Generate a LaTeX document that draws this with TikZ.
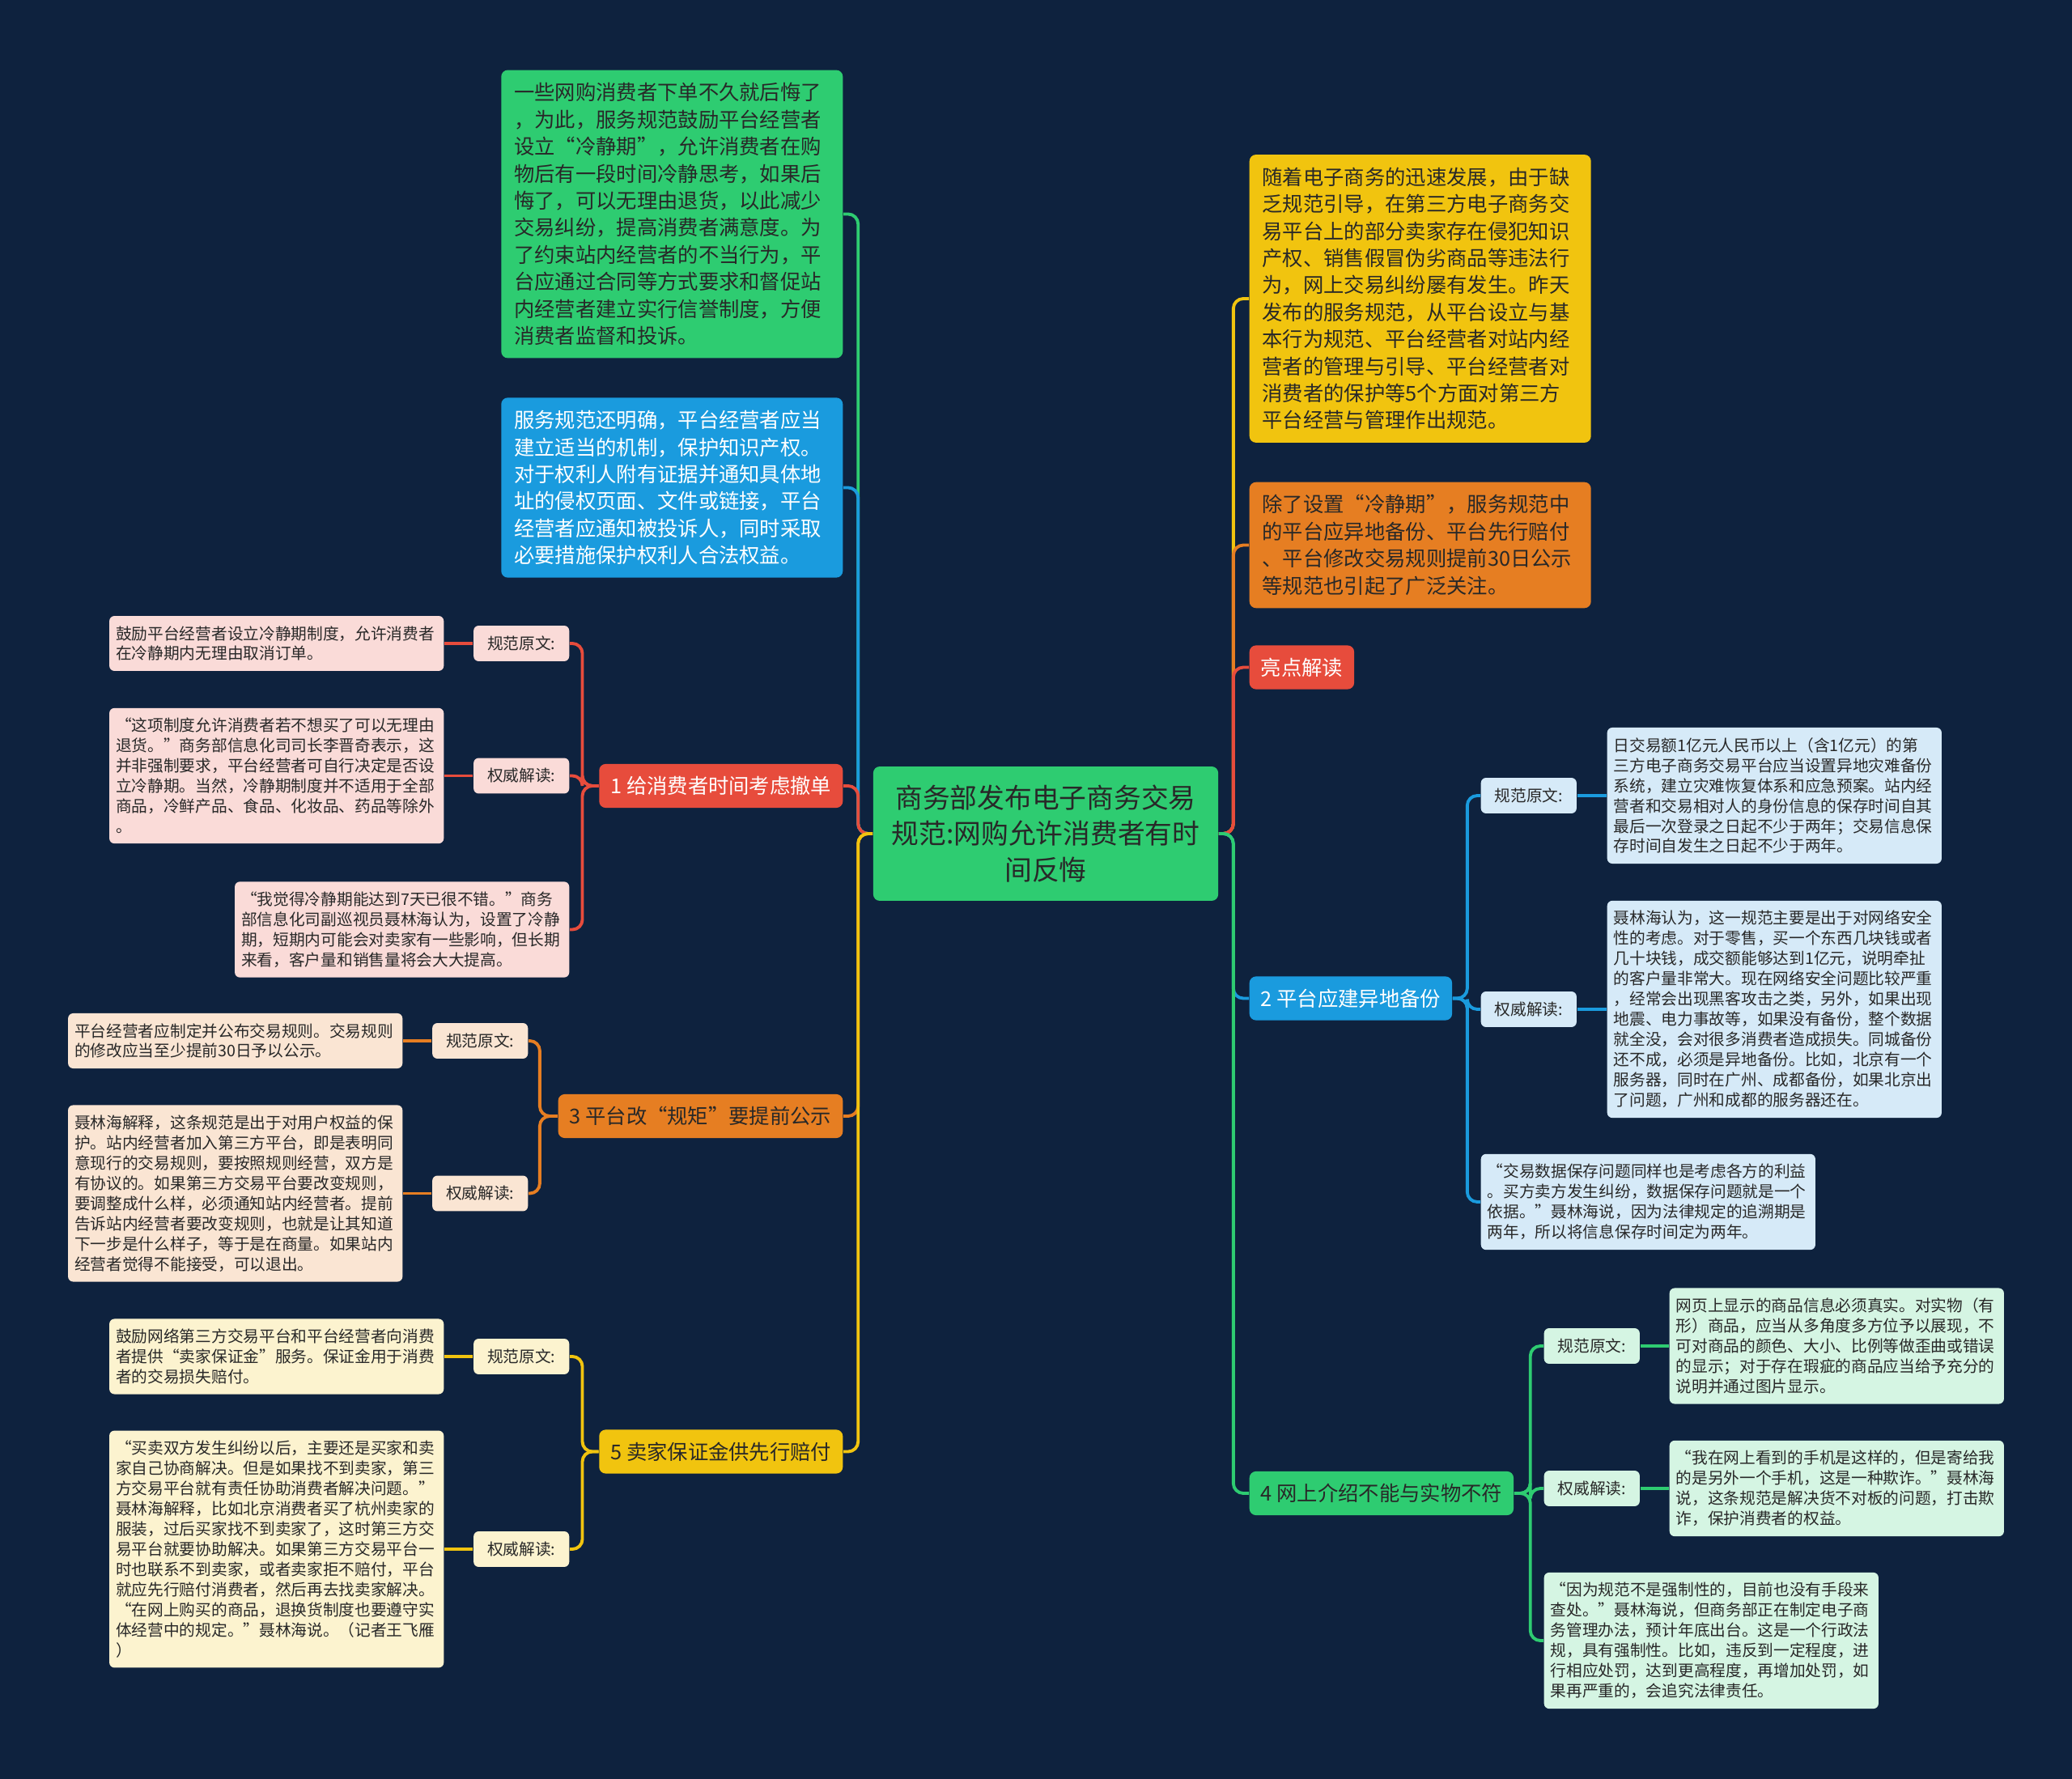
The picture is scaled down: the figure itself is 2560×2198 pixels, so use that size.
\documentclass[tikz,border=0pt]{standalone}
\usepackage{fontspec}
\setmainfont{Noto Sans CJK SC}
\usetikzlibrary{positioning}
\definecolor{bgnavy}{RGB}{14,34,62}
\definecolor{mgreen}{RGB}{46,204,113}
\definecolor{mblue}{RGB}{26,155,222}
\definecolor{mred}{RGB}{231,76,60}
\definecolor{morange}{RGB}{230,126,34}
\definecolor{myellow}{RGB}{241,196,15}
\definecolor{lred}{RGB}{250,219,216}
\definecolor{lorange}{RGB}{250,229,211}
\definecolor{lyellow}{RGB}{252,243,207}
\definecolor{lblue}{RGB}{214,234,248}
\definecolor{lgreen}{RGB}{213,245,227}
\definecolor{ink}{RGB}{40,40,40}
\newcommand{\leaffont}{\fontsize{5.6pt}{7.1pt}\selectfont}
\newcommand{\boxfont}{\fontsize{7.2pt}{9.5pt}\selectfont}
\newcommand{\rootfont}{\fontsize{9.6pt}{12.7pt}\selectfont}

\begin{document}
\begin{tikzpicture}[x=0.01cm, y=-0.01cm,
  link/.style={line width=1.1pt, rounded corners=3.5pt},
  root/.style={fill=mgreen, text=ink, rounded corners=2.3pt, align=center,
    minimum width=121.2pt, minimum height=47.2pt, inner sep=3pt, font=\rootfont},
  bigbox/.style={rounded corners=2.3pt, align=left, text width=111pt,
    inner xsep=4.5pt, inner ysep=4.5pt, font=\boxfont},
  topic/.style={rounded corners=2.3pt, minimum height=15.4pt, inner xsep=4pt,
    inner ysep=0pt, font=\boxfont},
  tag/.style={rounded corners=1.8pt, minimum width=33.6pt, minimum height=12.5pt,
    inner sep=0pt, font=\leaffont, text=ink},
  leaf/.style={rounded corners=1.8pt, align=left, text width=112.9pt,
    inner xsep=2.3pt, inner ysep=3.5pt, font=\leaffont, text=ink}]

  \fill[bgnavy] (0,0) rectangle (2560,2198);
  \useasboundingbox (0,0) rectangle (2560,2198);

  \node[root] (root) at (1292,1030) {商务部发布电子商务交易\\规范:网购允许消费者有时\\间反悔};

  % left side
  \node[bigbox, fill=mgreen, text=ink, anchor=east] (note1) at (1042,264.5)
    {一些网购消费者下单不久就后悔了\\，为此，服务规范鼓励平台经营者\\设立“冷静期”，允许消费者在购\\物后有一段时间冷静思考，如果后\\悔了，可以无理由退货，以此减少\\交易纠纷，提高消费者满意度。为\\了约束站内经营者的不当行为，平\\台应通过合同等方式要求和督促站\\内经营者建立实行信誉制度，方便\\消费者监督和投诉。};
  \node[bigbox, fill=mblue, text=white, anchor=east] (note2) at (1042,602.5)
    {服务规范还明确，平台经营者应当\\建立适当的机制，保护知识产权。\\对于权利人附有证据并通知具体地\\址的侵权页面、文件或链接，平台\\经营者应通知被投诉人，同时采取\\必要措施保护权利人合法权益。};

  \node[topic, fill=mred, text=white, anchor=east] (b1) at (1042,971) {1 给消费者时间考虑撤单};
  \node[tag, fill=lred, anchor=east] (t1a) at (704,795) {规范原文:};
  \node[tag, fill=lred, anchor=east] (t1b) at (704,958.5) {权威解读:};
  \node[leaf, fill=lred, anchor=east] (f1a) at (549,795)
    {鼓励平台经营者设立冷静期制度，允许消费者\\在冷静期内无理由取消订单。};
  \node[leaf, fill=lred, anchor=east] (f1b) at (549,958.5)
    {“这项制度允许消费者若不想买了可以无理由\\退货。”商务部信息化司司长李晋奇表示，这\\并非强制要求，平台经营者可自行决定是否设\\立冷静期。当然，冷静期制度并不适用于全部\\商品，冷鲜产品、食品、化妆品、药品等除外\\。};
  \node[leaf, fill=lred, anchor=east] (f1c) at (704,1148.5)
    {“我觉得冷静期能达到7天已很不错。”商务\\部信息化司副巡视员聂林海认为，设置了冷静\\期，短期内可能会对卖家有一些影响，但长期\\来看，客户量和销售量将会大大提高。};

  \node[topic, fill=morange, text=ink, anchor=east] (b3) at (1042,1379) {3 平台改“规矩”要提前公示};
  \node[tag, fill=lorange, anchor=east] (t3a) at (653,1286) {规范原文:};
  \node[tag, fill=lorange, anchor=east] (t3b) at (653,1474.5) {权威解读:};
  \node[leaf, fill=lorange, anchor=east] (f3a) at (498,1286)
    {平台经营者应制定并公布交易规则。交易规则\\的修改应当至少提前30日予以公示。};
  \node[leaf, fill=lorange, anchor=east] (f3b) at (498,1474.5)
    {聂林海解释，这条规范是出于对用户权益的保\\护。站内经营者加入第三方平台，即是表明同\\意现行的交易规则，要按照规则经营，双方是\\有协议的。如果第三方交易平台要改变规则，\\要调整成什么样，必须通知站内经营者。提前\\告诉站内经营者要改变规则，也就是让其知道\\下一步是什么样子，等于是在商量。如果站内\\经营者觉得不能接受，可以退出。};

  \node[topic, fill=myellow, text=ink, anchor=east] (b5) at (1042,1793.5) {5 卖家保证金供先行赔付};
  \node[tag, fill=lyellow, anchor=east] (t5a) at (704,1676) {规范原文:};
  \node[tag, fill=lyellow, anchor=east] (t5b) at (704,1914) {权威解读:};
  \node[leaf, fill=lyellow, anchor=east] (f5a) at (549,1676)
    {鼓励网络第三方交易平台和平台经营者向消费\\者提供“卖家保证金”服务。保证金用于消费\\者的交易损失赔付。};
  \node[leaf, fill=lyellow, anchor=east] (f5b) at (549,1914)
    {“买卖双方发生纠纷以后，主要还是买家和卖\\家自己协商解决。但是如果找不到卖家，第三\\方交易平台就有责任协助消费者解决问题。”\\聂林海解释，比如北京消费者买了杭州卖家的\\服装，过后买家找不到卖家了，这时第三方交\\易平台就要协助解决。如果第三方交易平台一\\时也联系不到卖家，或者卖家拒不赔付，平台\\就应先行赔付消费者，然后再去找卖家解决。\\“在网上购买的商品，退换货制度也要遵守实\\体经营中的规定。”聂林海说。（记者王飞雁\\）};

  % right side
  \node[bigbox, fill=myellow, text=ink, anchor=west] (note3) at (1543,369)
    {随着电子商务的迅速发展，由于缺\\乏规范引导，在第三方电子商务交\\易平台上的部分卖家存在侵犯知识\\产权、销售假冒伪劣商品等违法行\\为，网上交易纠纷屡有发生。昨天\\发布的服务规范，从平台设立与基\\本行为规范、平台经营者对站内经\\营者的管理与引导、平台经营者对\\消费者的保护等5个方面对第三方\\平台经营与管理作出规范。};
  \node[bigbox, fill=morange, text=ink, anchor=west] (note4) at (1543,673.5)
    {除了设置“冷静期”，服务规范中\\的平台应异地备份、平台先行赔付\\、平台修改交易规则提前30日公示\\等规范也引起了广泛关注。};
  \node[topic, fill=mred, text=white, anchor=west] (hl) at (1543,824.5) {亮点解读};

  \node[topic, fill=mblue, text=white, anchor=west] (b2) at (1543,1233.5) {2 平台应建异地备份};
  \node[tag, fill=lblue, anchor=west] (t2a) at (1829,983) {规范原文:};
  \node[tag, fill=lblue, anchor=west] (t2b) at (1829,1247) {权威解读:};
  \node[leaf, fill=lblue, anchor=west] (f2a) at (1985,983)
    {日交易额1亿元人民币以上（含1亿元）的第\\三方电子商务交易平台应当设置异地灾难备份\\系统，建立灾难恢复体系和应急预案。站内经\\营者和交易相对人的身份信息的保存时间自其\\最后一次登录之日起不少于两年；交易信息保\\存时间自发生之日起不少于两年。};
  \node[leaf, fill=lblue, anchor=west] (f2b) at (1985,1247)
    {聂林海认为，这一规范主要是出于对网络安全\\性的考虑。对于零售，买一个东西几块钱或者\\几十块钱，成交额能够达到1亿元，说明牵扯\\的客户量非常大。现在网络安全问题比较严重\\，经常会出现黑客攻击之类，另外，如果出现\\地震、电力事故等，如果没有备份，整个数据\\就全没，会对很多消费者造成损失。同城备份\\还不成，必须是异地备份。比如，北京有一个\\服务器，同时在广州、成都备份，如果北京出\\了问题，广州和成都的服务器还在。};
  \node[leaf, fill=lblue, anchor=west] (f2c) at (1829,1485)
    {“交易数据保存问题同样也是考虑各方的利益\\。买方卖方发生纠纷，数据保存问题就是一个\\依据。”聂林海说，因为法律规定的追溯期是\\两年，所以将信息保存时间定为两年。};

  \node[topic, fill=mgreen, text=ink, anchor=west] (b4) at (1543,1845) {4 网上介绍不能与实物不符};
  \node[tag, fill=lgreen, anchor=west] (t4a) at (1907,1663) {规范原文:};
  \node[tag, fill=lgreen, anchor=west] (t4b) at (1907,1839) {权威解读:};
  \node[leaf, fill=lgreen, anchor=west] (f4a) at (2062,1663)
    {网页上显示的商品信息必须真实。对实物（有\\形）商品，应当从多角度多方位予以展现，不\\可对商品的颜色、大小、比例等做歪曲或错误\\的显示；对于存在瑕疵的商品应当给予充分的\\说明并通过图片显示。};
  \node[leaf, fill=lgreen, anchor=west] (f4b) at (2062,1839)
    {“我在网上看到的手机是这样的，但是寄给我\\的是另外一个手机，这是一种欺诈。”聂林海\\说，这条规范是解决货不对板的问题，打击欺\\诈，保护消费者的权益。};
  \node[leaf, fill=lgreen, anchor=west] (f4c) at (1907,2027)
    {“因为规范不是强制性的，目前也没有手段来\\查处。”聂林海说，但商务部正在制定电子商\\务管理办法，预计年底出台。这是一个行政法\\规，具有强制性。比如，违反到一定程度，进\\行相应处罚，达到更高程度，再增加处罚，如\\果再严重的，会追究法律责任。};

  % connectors
  \foreach \n/\c in {note1/mgreen, note2/mblue, b1/mred, b3/morange, b5/myellow}
    \draw[link, \c] (root.west) -- ++(-18,0) |- (\n.east);
  \foreach \n/\c in {note3/myellow, note4/morange, hl/mred, b2/mblue, b4/mgreen}
    \draw[link, \c] (root.east) -- ++(18,0) |- (\n.west);

  \foreach \n in {t1a, t1b, f1c}
    \draw[link, mred] (b1.west) -- ++(-20,0) |- (\n.east);
  \foreach \n in {t3a, t3b}
    \draw[link, morange] (b3.west) -- ++(-22,0) |- (\n.east);
  \foreach \n in {t5a, t5b}
    \draw[link, myellow] (b5.west) -- ++(-20,0) |- (\n.east);
  \foreach \n in {t2a, t2b, f2c}
    \draw[link, mblue] (b2.east) -- ++(18,0) |- (\n.west);
  \foreach \n in {t4a, t4b, f4c}
    \draw[link, mgreen] (b4.east) -- ++(20,0) |- (\n.west);

  \foreach \a/\b/\c in {t1a/f1a/mred, t1b/f1b/mred, t3a/f3a/morange,
      t3b/f3b/morange, t5a/f5a/myellow, t5b/f5b/myellow}
    \draw[link, \c] (\a.west) -- (\b.east);
  \foreach \a/\b/\c in {t2a/f2a/mblue, t2b/f2b/mblue, t4a/f4a/mgreen, t4b/f4b/mgreen}
    \draw[link, \c] (\a.east) -- (\b.west);
\end{tikzpicture}
\end{document}
